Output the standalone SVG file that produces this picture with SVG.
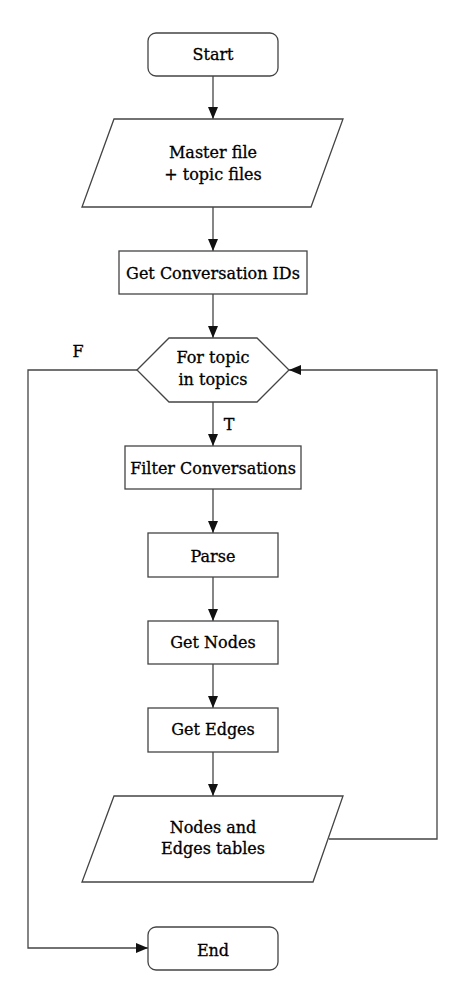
<svg xmlns="http://www.w3.org/2000/svg" width="464" height="1000" viewBox="0 0 464 1000">
<defs>
<marker id="arr" markerWidth="12" markerHeight="10" refX="12" refY="5" orient="auto" markerUnits="userSpaceOnUse">
<path d="M0,0 L12,5 L0,10 Z" fill="#111"/>
</marker>
<style>
.s{fill:#fff;stroke:#444;stroke-width:1.3}
.c{fill:none;stroke:#444;stroke-width:1.3}
text{font-family:"DejaVu Serif","Liberation Serif",serif;font-size:16px;fill:#000;stroke:#000;stroke-width:0.3;text-anchor:middle}
</style>
</defs>
<rect width="464" height="1000" fill="#fff"/>
<g id="connectors">
<line class="c" x1="213" y1="76" x2="213" y2="119" marker-end="url(#arr)"/>
<line class="c" x1="213" y1="207" x2="213" y2="251" marker-end="url(#arr)"/>
<line class="c" x1="213" y1="294" x2="213" y2="338" marker-end="url(#arr)"/>
<line class="c" x1="213" y1="402" x2="213" y2="446" marker-end="url(#arr)"/>
<line class="c" x1="213" y1="489" x2="213" y2="533" marker-end="url(#arr)"/>
<line class="c" x1="213" y1="577" x2="213" y2="621" marker-end="url(#arr)"/>
<line class="c" x1="213" y1="664" x2="213" y2="708" marker-end="url(#arr)"/>
<line class="c" x1="213" y1="752" x2="213" y2="796" marker-end="url(#arr)"/>
<polyline class="c" points="329,839 437,839 437,370 289,370" marker-end="url(#arr)"/>
<polyline class="c" points="137,370 28,370 28,948 148,948" marker-end="url(#arr)"/>
<text x="78" y="357">F</text>
<text x="229" y="430">T</text>
</g>
<g id="start">
<rect class="s" x="148" y="33" width="130" height="43" rx="8"/>
<text x="213" y="60">Start</text>
</g>
<g id="input">
<polygon class="s" points="114,119 343,119 311,207 82,207"/>
<text x="213" y="158">Master file</text>
<text x="213" y="180">+ topic files</text>
</g>
<g id="getids">
<rect class="s" x="119" y="251" width="188" height="43"/>
<text x="213" y="279">Get Conversation IDs</text>
</g>
<g id="loop">
<polygon class="s" points="137,370 169,338 257,338 289,370 257,402 169,402"/>
<text x="213" y="363">For topic</text>
<text x="213" y="385">in topics</text>
</g>
<g id="filter">
<rect class="s" x="125" y="446" width="176" height="43"/>
<text x="213" y="474">Filter Conversations</text>
</g>
<g id="parse">
<rect class="s" x="148" y="533" width="130" height="44"/>
<text x="213" y="562">Parse</text>
</g>
<g id="nodes">
<rect class="s" x="148" y="621" width="130" height="43"/>
<text x="213" y="648">Get Nodes</text>
</g>
<g id="edges">
<rect class="s" x="148" y="708" width="130" height="44"/>
<text x="213" y="735">Get Edges</text>
</g>
<g id="output">
<polygon class="s" points="114,796 343,796 313,882 82,882"/>
<text x="213" y="833">Nodes and</text>
<text x="213" y="854">Edges tables</text>
</g>
<g id="end">
<rect class="s" x="148" y="927" width="130" height="43" rx="8"/>
<text x="213" y="956">End</text>
</g>
</svg>
